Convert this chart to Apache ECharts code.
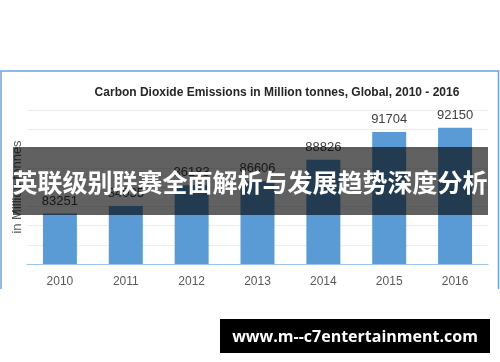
<!DOCTYPE html>
<html>
<head>
<meta charset="utf-8">
<script src="https://cdn.jsdelivr.net/npm/echarts@6/dist/echarts.min.js"></script>
<style>html,body{margin:0;padding:0;background:#fff;}#c{width:500px;height:362px;}</style>
</head>
<body>
<div id="c"></div>
<script>
var years = ['2010', '2011', '2012', '2013', '2014', '2015', '2016'];
var emissions = [83251, 84035, 86183, 86606, 88826, 91704, 92150];
var titleText = 'Carbon Dioxide Emissions in Million tonnes, Global, 2010 - 2016';
var yAxisName = 'in Million tonnes';
var bannerText = '英联级别联赛全面解析与发展趋势深度分析';
var siteText = 'www.m--c7entertainment.com';

var chart = echarts.init(document.getElementById('c'), null, {renderer: 'canvas'});
chart.setOption({
  animation: false,
  backgroundColor: '#ffffff',
  title: {
    text: titleText,
    left: 272, top: 82, textAlign: 'center',
    textStyle: {fontFamily: 'Liberation Sans', fontWeight: 'bold', fontSize: 12, color: '#262626'}
  },
  grid: {left: 27, right: 12, top: 110, bottom: 98, outerBoundsMode: 'none', containLabel: false},
  xAxis: {
    type: 'category', data: years,
    axisLine: {lineStyle: {color: '#9dc3e6', width: 1}},
    axisTick: {show: false},
    axisLabel: {color: '#595959', fontSize: 12, fontFamily: 'Liberation Sans', margin: 12}
  },
  yAxis: {
    type: 'value', min: 78000, max: 94000, interval: 2000,
    name: yAxisName, nameLocation: 'middle', nameGap: 3, nameRotate: 90,
    nameTextStyle: {color: '#595959', fontSize: 13, fontFamily: 'Liberation Sans'},
    axisLabel: {show: false},
    axisLine: {show: false}, axisTick: {show: false},
    splitLine: {lineStyle: {color: '#ececec', width: 1}}
  },
  series: [{
    type: 'bar', data: emissions, barWidth: 34,
    itemStyle: {color: '#5b9bd5'},
    label: {show: true, position: 'top', distance: 6, color: '#404040', fontSize: 13, fontFamily: 'Liberation Sans'}
  }],
  graphic: [
    {type: 'polyline', z: 50, shape: {points: [[1, 289], [1, 71], [498.5, 71], [498.5, 289]]},
     style: {stroke: '#6fa3da', lineWidth: 1.5, fill: null}},
    {type: 'rect', z: 100, shape: {x: 13, y: 147, width: 475, height: 68},
     style: {fill: 'rgba(0,0,0,0.62)'}},
    {type: 'text', z: 101, style: {text: bannerText, x: 250, y: 182, textAlign: 'center', textVerticalAlign: 'middle',
      fill: '#ffffff', font: 'bold 25px "Noto Sans CJK SC"'}},
    {type: 'rect', z: 100, shape: {x: 220, y: 319, width: 270, height: 34}, style: {fill: '#000000'}},
    {type: 'text', z: 101, style: {text: siteText, x: 355, y: 337, textAlign: 'center', textVerticalAlign: 'middle',
      fill: '#ffffff', font: 'bold 16px "Open Sans"'}}
  ]
});
</script>
</body>
</html>
